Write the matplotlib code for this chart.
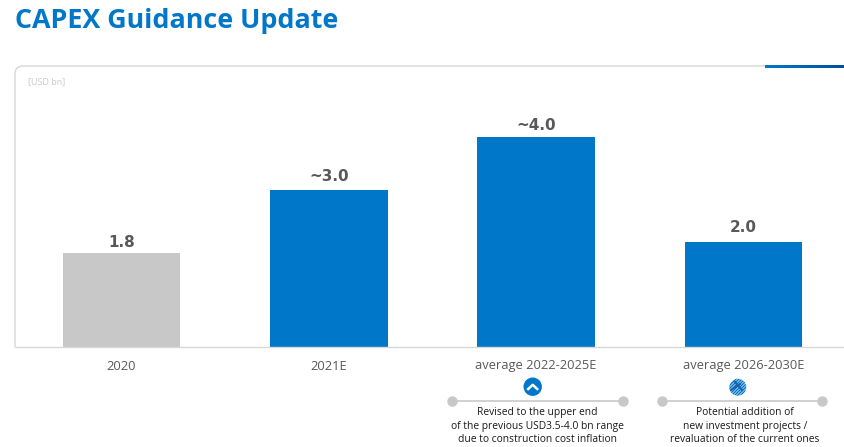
import matplotlib
matplotlib.use("Agg")
import matplotlib.pyplot as plt
import numpy as np
from matplotlib.colors import LinearSegmentedColormap
from matplotlib.patches import Circle, PathPatch
from matplotlib.path import Path

plt.rcParams['font.family'] = ['Open Sans', 'DejaVu Sans']

# data
categories = ["2020", "2021E", "average 2022-2025E", "average 2026-2030E"]
values = [1.8, 3.0, 4.0, 2.0]
value_labels = ["1.8", "~3.0", "~4.0", "2.0"]
notes = [
    "Revised to the upper end\nof the previous USD3.5-4.0 bn range\ndue to construction cost inflation",
    "Potential addition of\nnew investment projects /\nrevaluation of the current ones",
]

BLUE = "#0077c8"
GREY = "#c8c8c8"
TEXT = "#595959"
W, H = 845, 447

fig = plt.figure(figsize=(8.45, 4.47), dpi=100)

# overlay in pixel coordinates for the panel furniture
bg = fig.add_axes([0, 0, 1, 1])
bg.set_xlim(0, W)
bg.set_ylim(H, 0)
bg.axis("off")

# rounded frame, left side and top
frame = Path([(15, 347), (15, 74), (15, 66), (23, 66), (765, 66)],
             [Path.MOVETO, Path.LINETO, Path.CURVE3, Path.CURVE3, Path.LINETO])
bg.add_patch(PathPatch(frame, fill=False, edgecolor="#d8d8d8", lw=1.0))

# blue gradient piece at top right
grad = LinearSegmentedColormap.from_list("g", [BLUE, "#004f9f"])
bg.imshow(np.linspace(0, 1, 80).reshape(1, -1), extent=(765, 845, 68, 65),
          cmap=grad, aspect="auto", zorder=3)
bg.set_xlim(0, W)
bg.set_ylim(H, 0)

bg.text(15, 21.5, "CAPEX Guidance Update", color=BLUE, fontsize=19.4,
        fontweight="bold", va="center", ha="left")
bg.text(28, 81.5, "[USD bn]", color="#c9c9c9", fontsize=6.5, va="center", ha="left")

# bars
left, right, bottom, top = 15, 845, 347, 100
ax = fig.add_axes([left / W, 1 - bottom / H, (right - left) / W, (bottom - top) / H])
ax.patch.set_alpha(0)
colors = [GREY, BLUE, BLUE, BLUE]
x = np.arange(len(categories))
bars = ax.bar(x, values, width=0.567, color=colors)
ax.set_xlim((left - 121.5) / 207.3, (right - 121.5) / 207.3)
ax.set_ylim(0, (bottom - top) / 52.4)
ax.set_yticks([])
ax.set_xticks(x, categories)
ax.tick_params(axis="x", length=0, pad=9, labelsize=9.3, labelcolor=TEXT)
for s in ["top", "left", "right"]:
    ax.spines[s].set_visible(False)
ax.spines["bottom"].set_color("#d8d8d8")
ax.spines["bottom"].set_linewidth(1.0)
# the labels do not sit at the same height above each bar
label_gaps = [2.0, 4.5, 3.5, 5.5]
for b, lab, gap in zip(bars, value_labels, label_gaps):
    ax.annotate(lab, (b.get_x() + b.get_width() / 2, b.get_height()),
                xytext=(0, gap), textcoords="offset points", ha="center", va="bottom",
                fontsize=11, fontweight="bold", color=TEXT, family="DejaVu Sans")

# note connectors and text
for (x0, x1), cx, txt in zip([(452, 623), (662, 822)], [537.5, 745], notes):
    bg.plot([x0, x1], [400.5, 400.5], color="#c8c8c8", lw=1.2, zorder=2)
    bg.plot([x0, x1], [400.5, 400.5], "o", color="#c8c8c8", ms=6.5, zorder=2)
    bg.text(cx, 426, txt, ha="center", va="center", fontsize=7.4, color="#1a1a1a",
            linespacing=1.3)

# up chevron icon
bg.add_patch(Circle((532.7, 386.7), 8.5, color=BLUE, zorder=3))
bg.plot([528.2, 532.7, 537.2], [389, 384.8, 389], color="white", lw=1.8, zorder=4)

# striped icon, clipped to a circle
clip = Circle((737.8, 387.2), 8.5, transform=bg.transData)
for off in [-10, -7, -4, -1, 2, 5, 8, 11]:
    ln, = bg.plot([737.8 + off - 10, 737.8 + off + 10], [387.2 + 10, 387.2 - 10],
                  color=BLUE, lw=1.1, zorder=4)
    ln.set_clip_path(clip)
for xs, ys in [([735, 742], [382, 390]), ([731, 740], [390, 384])]:
    ln, = bg.plot(xs, ys, color="#1f5fa8", lw=1.5, zorder=5)
    ln.set_clip_path(clip)

fig.savefig("out.png", dpi=100)
